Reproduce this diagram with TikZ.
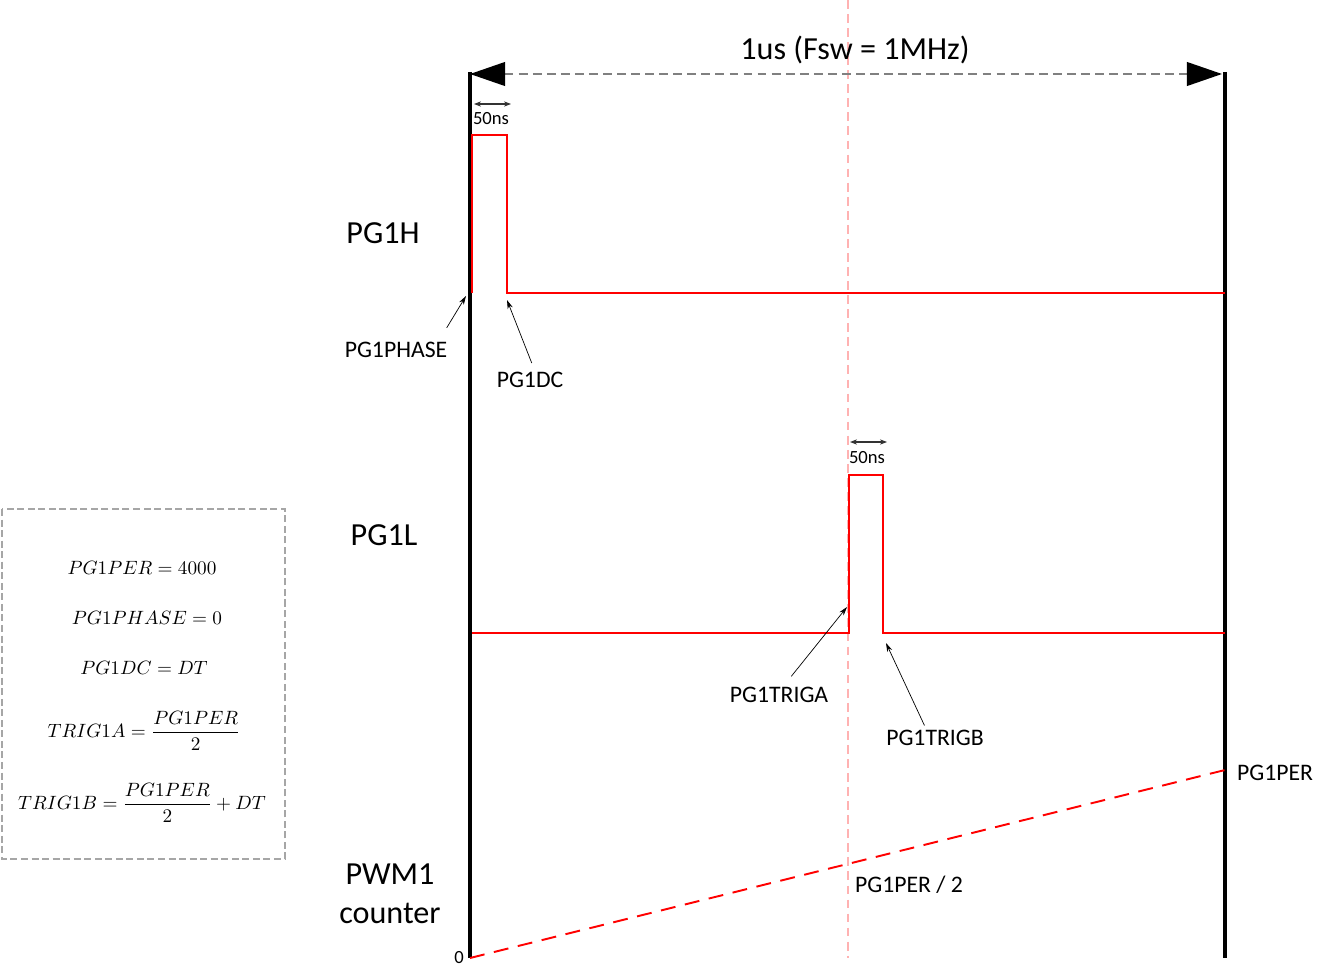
\documentclass[tikz,border=0pt]{standalone}
\usepackage{amsmath}
\usepackage{fontspec}
\setmainfont{Carlito}
\usetikzlibrary{arrows.meta}

\begin{document}
\begin{tikzpicture}[x=0.02cm, y=-0.02cm,
  axis/.style={line width=1.8pt},
  wave/.style={red, line width=1.5pt},
  note/.style={-{Stealth[length=5pt,width=3pt]}, line width=0.4pt},
  span/.style={{Stealth[length=4pt,width=3pt]}-{Stealth[length=4pt,width=3pt]}, line width=0.6pt, black!80},
  sig/.style={font=\fontsize{18.3}{22}\selectfont, inner sep=0pt},
  lbl/.style={font=\fontsize{13.5}{16}\selectfont, inner sep=1pt},
  small/.style={font=\fontsize{10.6}{12}\selectfont, inner sep=0pt},
  eq/.style={font=\fontsize{11.4}{13}\selectfont, inner sep=0pt}]
\useasboundingbox (0,0) rectangle (1326,980);

% time axis
\coordinate (t0) at (470,72);
\coordinate (t0b) at (470,958);
\coordinate (t1) at (1225,72);
\coordinate (t1b) at (1225,958);
\draw[axis] (t0) -- (t0b);
\draw[axis] (t1) -- (t1b);
\draw[red!30, line width=0.6pt, dash pattern=on 5pt off 3pt] (848,0) -- (848,958);

\draw[gray, line width=1.1pt, dash pattern=on 5pt off 3pt,
  {Triangle[length=20pt,width=13.5pt,black]}-{Triangle[length=20pt,width=13.5pt,black]}]
  (470,74) -- (1222,74);
\node[sig] (period) at (855,50) {1us (Fsw = 1MHz)};

% signal names
\node[sig] (hname) at (383,233) {PG1H};
\node[sig] (lname) at (384,535) {PG1L};
\node[sig, align=center] (cname) at (390,894) {PWM1\\counter};

% PG1H
\draw[wave] (472,293) -- (472,135) -- (507,135) -- (507,293) -- (1225,293);
\coordinate (hs1) at (474,104);
\coordinate (hs2) at (511,104);
\draw[span] (hs1) -- (hs2);
\node[small] (ns1) at (491,119) {50ns};

% PG1L
\draw[wave] (472,633) -- (849,633) -- (849,475) -- (883,475) -- (883,633) -- (1225,633);
\coordinate (ls1) at (850,442);
\coordinate (ls2) at (887,442);
\draw[span] (ls1) -- (ls2);
\node[small] (ns2) at (867,458) {50ns};

% annotations
\node[lbl] (phase) at (396,350) {PG1PHASE};
\coordinate (phasetip) at (466,296);
\draw[note] ([xshift=-1.5pt,yshift=7pt]phase.north east) -- (phasetip);

\node[lbl] (dc) at (530,380) {PG1DC};
\coordinate (dctip) at (507,300);
\draw[note] ([xshift=1pt,yshift=4pt]dc.north) -- (dctip);

\node[lbl] (triga) at (779,695) {PG1TRIGA};
\coordinate (trigatip) at (847,607);
\draw[note] ([xshift=7pt,yshift=5pt]triga.north) -- (trigatip);

\node[lbl] (trigb) at (935,738) {PG1TRIGB};
\coordinate (trigbtip) at (886,643);
\draw[note] ([xshift=-6pt,yshift=1.5pt]trigb.north) -- (trigbtip);

% counter ramp
\draw[red, line width=1.1pt, dash pattern=on 8.5pt off 5.5pt] (t0b) -- (1225,770);
\node[lbl, anchor=west] (per) at (1235,773) {PG1PER};
\node[lbl, anchor=west] (half) at (853,885) {PG1PER / 2};
\node[small] (zero) at (459,958) {0};

% register settings
\draw[gray!70, line width=0.6pt, dash pattern=on 4pt off 2pt] (2,509) rectangle (285,859);
\node[eq] (e1) at (142,568) {$PG1PER = 4000$};
\node[eq] (e2) at (147,618) {$PG1PHASE = 0$};
\node[eq] (e3) at (144,668) {$PG1DC = DT$};
\node[eq] (e4) at (144,731) {$TRIG1A = \dfrac{PG1PER}{2}$};
\node[eq] (e5) at (142,803) {$TRIG1B = \dfrac{PG1PER}{2} + DT$};
\end{tikzpicture}
\end{document}
